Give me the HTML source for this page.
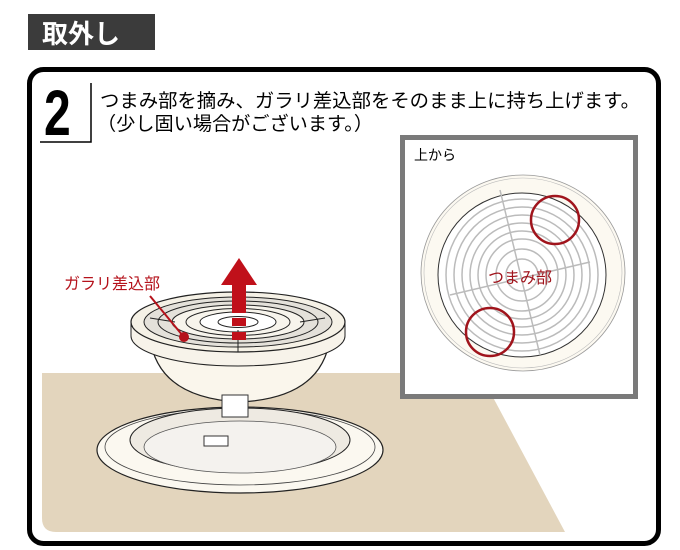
<!DOCTYPE html>
<html><head><meta charset="utf-8"><style>
html,body{margin:0;padding:0;background:#fff;}
body{width:680px;height:550px;position:relative;overflow:hidden;font-family:"Liberation Sans","Noto Sans CJK JP",sans-serif;}
</style></head><body>
<svg width="680" height="550" viewBox="0 0 680 550" xmlns="http://www.w3.org/2000/svg" style="position:absolute;left:0;top:0">
<rect x="28" y="14" width="127" height="36" fill="#3b3b3b"/>
<text x="42" y="43" font-size="26" font-weight="bold" fill="#fff" font-family="Liberation Sans, Noto Sans CJK JP, sans-serif">取外し</text>
<rect x="29.5" y="69.5" width="629" height="474" rx="14" fill="#fff" stroke="#000" stroke-width="5"/>
<!-- floor -->
<path d="M42 373 L480 373 L565 532 L56 532 Q42 532 42 518 Z" fill="#e3d5bd"/>
<!-- number -->
<text x="44" y="135" font-size="64" font-weight="bold" font-family="Liberation Sans Narrow, Liberation Sans, sans-serif" transform="translate(44 0) scale(0.75 1) translate(-44 0)">2</text>
<path d="M91 83 V142 H40" fill="none" stroke="#000" stroke-width="1.5"/>
<text x="100" y="107" font-size="19" font-family="Liberation Sans, Noto Sans CJK JP, sans-serif" textLength="540" lengthAdjust="spacingAndGlyphs">つまみ部を摘み、ガラリ差込部をそのまま上に持ち上げます。</text>
<text x="97" y="130" font-size="19" font-family="Liberation Sans, Noto Sans CJK JP, sans-serif" textLength="276" lengthAdjust="spacingAndGlyphs">（少し固い場合がございます。）</text>
<!-- base ring -->
<ellipse cx="240" cy="450" rx="143" ry="43" fill="#fbf8f0" stroke="#222" stroke-width="1.2"/>
<ellipse cx="240" cy="447" rx="135" ry="38" fill="none" stroke="#444" stroke-width="0.8"/>
<ellipse cx="240" cy="440" rx="110" ry="32" fill="#eeeae2" stroke="#222" stroke-width="1"/>
<ellipse cx="240" cy="447" rx="96" ry="26" fill="#f4f2ee" stroke="#555" stroke-width="0.8"/>
<rect x="204" y="436" width="24" height="10" fill="#fff" stroke="#333"/>
<!-- bowl -->
<path d="M150 338 Q158 398 240 402 Q322 398 330 338 Z" fill="#faf6ec" stroke="#222" stroke-width="1.2"/>
<rect x="222" y="395" width="26" height="22" fill="#fff" stroke="#333"/>
<!-- grille -->
<path d="M131 322 L131 336 A107 30 0 0 0 345 336 L345 322 Z" fill="#f7f3ea" stroke="#222"/>
<ellipse cx="238" cy="322" rx="107" ry="30" fill="#f5f1e6" stroke="#222" stroke-width="1.2"/>
<ellipse cx="238" cy="322" rx="94" ry="25" fill="#e4e1da" stroke="#222"/>
<ellipse cx="238" cy="322" rx="80" ry="21" fill="none" stroke="#222"/>
<ellipse cx="238" cy="322" rx="66" ry="17" fill="#f7f4ec" stroke="#222"/>
<ellipse cx="238" cy="322" rx="52" ry="13.5" fill="none" stroke="#222"/>
<ellipse cx="238" cy="322" rx="38" ry="10" fill="#fff" stroke="#222"/>
<ellipse cx="238" cy="322" rx="20" ry="5.5" fill="#fff" stroke="#222"/>
<g stroke="#222" stroke-width="1"><line x1="238" y1="330" x2="238" y2="352"/><line x1="150" y1="318" x2="175" y2="322"/><line x1="300" y1="322" x2="325" y2="318"/></g>
<!-- arrow -->
<rect x="232" y="283" width="14" height="30" fill="#c0101a"/>
<polygon points="221,285 239,258 257,285" fill="#c0101a"/>
<rect x="232" y="318" width="14" height="8" fill="#c0101a"/>
<rect x="232" y="332" width="14" height="8" fill="#c0101a"/>
<!-- label -->
<text x="64" y="289" font-size="16" fill="#b5121b" font-family="Liberation Sans, Noto Sans CJK JP, sans-serif">ガラリ差込部</text>
<line x1="150" y1="296" x2="183" y2="336" stroke="#b5121b" stroke-width="2"/>
<circle cx="184" cy="337" r="5" fill="#b5121b"/>
<!-- inset -->
<rect x="402.5" y="137.5" width="233" height="259" fill="#fff" stroke="#7a7a7a" stroke-width="5"/>
<text x="414" y="160" font-size="14" font-family="Liberation Sans, Noto Sans CJK JP, sans-serif">上から</text>
<ellipse cx="523" cy="273" rx="102" ry="98" fill="#fcf9f1" stroke="#999" stroke-width="0.8"/>
<ellipse cx="523" cy="273" rx="99" ry="95" fill="none" stroke="#bbb" stroke-width="0.6"/>
<ellipse cx="522" cy="275" rx="84" ry="82" fill="#fff" stroke="#333" stroke-width="1"/>
<g fill="none" stroke="#bbb" stroke-width="1.5">
<circle cx="522" cy="275" r="76"/><circle cx="522" cy="275" r="68"/><circle cx="522" cy="275" r="60"/><circle cx="522" cy="275" r="52"/><circle cx="522" cy="275" r="44"/><circle cx="522" cy="275" r="36"/><circle cx="522" cy="275" r="26"/><circle cx="522" cy="275" r="16"/>
<line x1="500" y1="190" x2="540" y2="355"/><line x1="450" y1="295" x2="590" y2="262"/>
</g>
<circle cx="555" cy="220" r="24" fill="none" stroke="#a0141c" stroke-width="2.5"/>
<circle cx="490" cy="332" r="24" fill="none" stroke="#a0141c" stroke-width="2.5"/>
<text x="488" y="283" font-size="16" fill="#a0141c" font-family="Liberation Sans, Noto Sans CJK JP, sans-serif">つまみ部</text>
</svg>
</body></html>
